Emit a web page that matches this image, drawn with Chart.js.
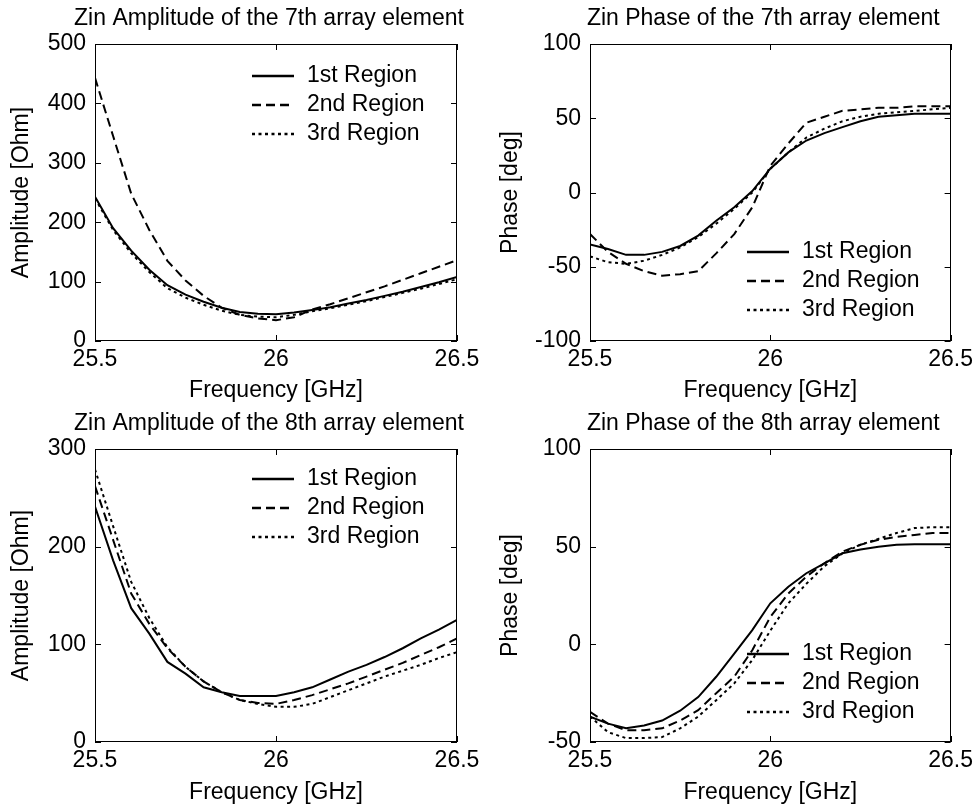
<!DOCTYPE html>
<html><head><meta charset="utf-8">
<script src="https://cdn.jsdelivr.net/npm/chart.js@4.4.0/dist/chart.umd.min.js"></script>
<style>
html,body{margin:0;padding:0;background:#fff;}
body{width:978px;height:809px;position:relative;overflow:hidden;}
.p{position:absolute;}
</style></head><body>
<div class="p" style="left:0;top:0;width:489px;height:404px"><canvas id="c1"></canvas></div>
<div class="p" style="left:489px;top:0;width:489px;height:404px"><canvas id="c2"></canvas></div>
<div class="p" style="left:0;top:404px;width:489px;height:405px"><canvas id="c3"></canvas></div>
<div class="p" style="left:489px;top:404px;width:489px;height:405px"><canvas id="c4"></canvas></div>
<script>
// ---- data ----
const frequency = [25.5, 25.55, 25.6, 25.65, 25.7, 25.75, 25.8, 25.85, 25.9, 25.95, 26.0,
                   26.05, 26.1, 26.15, 26.2, 26.25, 26.3, 26.35, 26.4, 26.45, 26.5];
const seriesNames = ['1st Region', '2nd Region', '3rd Region'];
const xTickLabels = [25.5, 26, 26.5];

// 7th element amplitude [Ohm]
const amp7Region1 = [243, 190, 152, 120, 94, 78, 66, 56, 49, 46, 45, 48, 52, 57, 63, 69, 76, 83, 91, 99, 108];
const amp7Region2 = [443, 345, 248, 187, 135, 102, 76, 56, 44, 38, 35, 40, 53, 62, 72, 82, 92, 103, 114, 125, 136];
const amp7Region3 = [240, 187, 148, 116, 89, 73, 61, 51, 44, 41, 40, 44, 50, 55, 61, 67, 74, 81, 88, 96, 104];
const amp7Ticks = [0, 100, 200, 300, 400, 500];

// 7th element phase [deg]
const ph7Region1 = [-35, -38, -42, -42, -40, -36, -29, -19, -10, 1, 16, 27, 35, 40, 44, 48, 51, 52, 53, 53, 53];
const ph7Region2 = [-28, -40, -48, -53, -56, -55, -53, -41, -28, -10, 18, 33, 47, 51, 55, 56, 57, 57, 58, 58, 58];
const ph7Region3 = [-43, -47, -48, -46, -42, -37, -30, -21, -11, 0, 16, 27, 37, 43, 48, 51, 53, 54, 55, 56, 57];
const ph7Ticks = [-100, -50, 0, 50, 100];

// 8th element amplitude [Ohm]
const amp8Region1 = [241, 186, 137, 111, 82, 70, 56, 51, 47, 47, 47, 51, 56, 64, 72, 79, 87, 96, 106, 115, 125];
const amp8Region2 = [262, 207, 152, 121, 96, 77, 62, 51, 43, 40, 39, 43, 48, 54, 60, 67, 74, 81, 89, 97, 106];
const amp8Region3 = [279, 221, 164, 127, 97, 77, 62, 51, 43, 39, 36, 36, 39, 46, 53, 60, 67, 73, 79, 86, 92];
const amp8Ticks = [0, 100, 200, 300];

// 8th element phase [deg]
const ph8Region1 = [-37, -40.6, -43, -41.5, -39, -34, -27, -16.6, -4.7, 7.3, 21, 29.5, 36.4, 41.5, 46.6, 48.5, 50, 51, 51.2, 51.2, 51.2];
const ph8Region2 = [-34.6, -40.6, -44, -44, -43, -39, -33.7, -25, -16.6, -3, 14, 26, 34.7, 41.5, 47.5, 51, 53.5, 55, 56, 57, 57];
const ph8Region3 = [-37, -45, -48, -48, -47.5, -43, -37, -28.6, -20, -8, 7, 21, 31, 40, 46.6, 51, 54, 57, 59.5, 60, 60];
const ph8Ticks = [-50, 0, 50, 100];

// ---- styles ----
const FONT = '"Liberation Sans", Arial, sans-serif';
const FS = 23;
const dashes = [[], [9, 5], [3, 3.5]];

const framePlugin = {
  id: 'frameLegend',
  afterDatasetsDraw(chart, args, o) {
    const {ctx, chartArea: a, scales} = chart;
    const x = scales.x, y = scales.y;
    ctx.save();
    ctx.strokeStyle = '#000';
    ctx.lineWidth = 1;
    ctx.setLineDash([]);
    ctx.strokeRect(Math.round(a.left) + 0.5, Math.round(a.top) + 0.5,
                   Math.round(a.right - a.left) - 1, Math.round(a.bottom - a.top) - 1);
    const L = 6;
    ctx.beginPath();
    x.ticks.forEach(t => {
      const px = Math.round(x.getPixelForValue(t.value)) + 0.5;
      ctx.moveTo(px, a.bottom); ctx.lineTo(px, a.bottom - L);
      ctx.moveTo(px, a.top); ctx.lineTo(px, a.top + L);
    });
    y.ticks.forEach(t => {
      const py = Math.round(y.getPixelForValue(t.value)) + 0.5;
      ctx.moveTo(a.left, py); ctx.lineTo(a.left + L, py);
      ctx.moveTo(a.right, py); ctx.lineTo(a.right - L, py);
    });
    ctx.stroke();
    // title
    ctx.fillStyle = '#000';
    ctx.font = FS + 'px ' + FONT;
    ctx.textAlign = 'center';
    ctx.textBaseline = 'middle';
    ctx.fillText(o.title, (a.left + a.right) / 2 - 7, a.top - 25);
    // legend
    ctx.textAlign = 'left';
    chart.data.datasets.forEach((ds, i) => {
      const ly = a.top + o.legendTop + i * 29;
      ctx.beginPath();
      ctx.lineWidth = 2.5;
      ctx.setLineDash(ds.borderDash || []);
      ctx.moveTo(a.left + 157, ly);
      ctx.lineTo(a.left + 199, ly);
      ctx.stroke();
      ctx.setLineDash([]);
      ctx.fillText(ds.label, a.left + 212, ly);
    });
    ctx.restore();
  }
};

function makeChart(id, series, yTicks, yTitle, title, legendTop, lay) {
  const datasets = series.map((vals, i) => ({
    label: seriesNames[i],
    data: frequency.map((f, k) => ({x: f, y: vals[k]})),
    borderColor: '#000',
    borderWidth: 2,
    borderDash: dashes[i],
    pointRadius: 0,
    fill: false,
    tension: 0
  }));
  return new Chart(document.getElementById(id), {
    type: 'line',
    data: {datasets},
    plugins: [framePlugin],
    options: {
      responsive: true,
      maintainAspectRatio: false,
      animation: false,
      events: [],
      devicePixelRatio: 1,
      layout: {padding: {left: 0, top: lay.top, right: lay.right, bottom: 0}},
      plugins: {
        legend: {display: false},
        tooltip: {enabled: false},
        frameLegend: {title, legendTop}
      },
      scales: {
        x: {
          type: 'linear',
          min: xTickLabels[0], max: xTickLabels[xTickLabels.length - 1],
          afterBuildTicks: s => { s.ticks = xTickLabels.map(v => ({value: v})); },
          afterFit: s => { s.height = lay.xh; },
          grid: {display: false, drawTicks: false},
          border: {display: false},
          ticks: {color: '#000', font: {family: FONT, size: FS}, padding: 5, maxRotation: 0,
                  autoSkip: false, callback: v => String(v)},
          title: {display: true, text: 'Frequency [GHz]', color: '#000',
                  font: {family: FONT, size: FS}, padding: {top: 0, bottom: lay.xtb}}
        },
        y: {
          type: 'linear',
          min: yTicks[0], max: yTicks[yTicks.length - 1],
          afterBuildTicks: s => { s.ticks = yTicks.map(v => ({value: v})); },
          afterFit: s => { s.width = lay.yw; },
          grid: {display: false, drawTicks: false},
          border: {display: false},
          ticks: {color: '#000', font: {family: FONT, size: FS}, padding: 9,
                  autoSkip: false, callback: v => String(v)},
          title: {display: true, text: yTitle, color: '#000',
                  font: {family: FONT, size: FS}, padding: {top: 8, bottom: 0}}
        }
      }
    }
  });
}

makeChart('c1', [amp7Region1, amp7Region2, amp7Region3], amp7Ticks, 'Amplitude [Ohm]',
          'Zin Amplitude of the 7th array element', 32, {top: 44, right: 32, xh: 63, xtb: 0, yw: 95});
makeChart('c2', [ph7Region1, ph7Region2, ph7Region3], ph7Ticks, 'Phase [deg]',
          'Zin Phase of the 7th array element', 208, {top: 44, right: 25, xh: 63, xtb: 0, yw: 101});
makeChart('c3', [amp8Region1, amp8Region2, amp8Region3], amp8Ticks, 'Amplitude [Ohm]',
          'Zin Amplitude of the 8th array element', 30, {top: 45, right: 32, xh: 67, xtb: 3, yw: 95});
makeChart('c4', [ph8Region1, ph8Region2, ph8Region3], ph8Ticks, 'Phase [deg]',
          'Zin Phase of the 8th array element', 205, {top: 45, right: 25, xh: 67, xtb: 3, yw: 101});
</script>
</body></html>
